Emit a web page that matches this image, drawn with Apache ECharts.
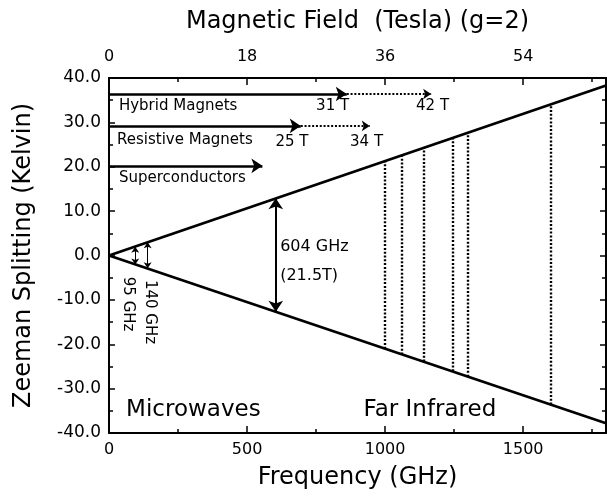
<!DOCTYPE html>
<html>
<head>
<meta charset="utf-8">
<script src="https://cdn.jsdelivr.net/npm/echarts@6/dist/echarts.min.js"></script>
<style>
  html, body { margin: 0; padding: 0; background: #fff; }
  #chart { width: 607px; height: 500px; }
</style>
</head>
<body>
<div id="chart"></div>
<script>
// ---- data -------------------------------------------------------------
// tick labels
const freqTicks = [0, 500, 1000, 1500];          // GHz (bottom)
const fieldTicks = [0, 18, 36, 54];              // Tesla (top)
const splitTicks = [40, 30, 20, 10, 0, -10, -20, -30, -40]; // Kelvin

// Zeeman splitting fan: endpoints (GHz, K)
const fanFreq = [0, 1800];
const fanUpper = [0, 38.3];
const fanLower = [0, -37.8];

// microwave sources (GHz) and the splitting they span (K)
const mwFreq = [95, 140];
const mwUpper = [2.0, 3.0];
const mwLower = [-2.0, -2.9];
const hfFreq = [604];
const hfField = [21.5];
const hfUpper = [12.9];
const hfLower = [-12.7];

// far-infrared laser lines (GHz) and their splitting span (K)
const firFreq = [1000, 1060, 1140, 1245, 1300, 1600];
const firUpper = [21.3, 22.6, 24.3, 26.5, 27.7, 34.0];
const firLower = [-21.0, -22.3, -23.9, -26.1, -27.3, -33.6];

// magnet classes: continuous field limit and extended limit (Tesla)
const magnetNames = ['Hybrid Magnets', 'Resistive Magnets', 'Superconductors'];
const magnetField = [31, 25, 20];
const magnetExtended = [42, 34, null];

// ---- layout -----------------------------------------------------------
const FONT = 'DejaVu Sans';
const FREQ_MAX = 1800;
const FIELD_MAX = FREQ_MAX * 18 / 500;   // top axis shares the frequency scale
const magnetRowK = [36.4, 29.2, 20.2];   // row height of each magnet arrow (K)

const black = '#000';
const axisLine = { show: true, onZero: false, lineStyle: { color: black, width: 2 } };

const chart = echarts.init(document.getElementById('chart'), null, { renderer: 'canvas' });

function tickAxis(pos, max, interval, len, extra) {
  return Object.assign({
    type: 'value', position: pos, gridIndex: 0, min: 0, max: max, interval: interval,
    axisLine: { show: false, onZero: false }, axisLabel: { show: false },
    axisTick: { show: true, inside: true, length: len, lineStyle: { color: black, width: 1.5 } },
    splitLine: { show: false }
  }, extra || {});
}

const option = {
  animation: false,
  backgroundColor: '#fff',
  textStyle: { fontFamily: FONT },
  grid: { left: 109, right: 1, top: 78, bottom: 67, containLabel: false },
  xAxis: [
    tickAxis('bottom', FREQ_MAX, 250, 4, {
      axisLine: axisLine,
      axisLabel: {
        show: true, margin: 9, color: black, fontFamily: FONT, fontSize: 16,
        showMaxLabel: false,
        formatter: v => freqTicks.includes(v) ? String(v) : ''
      },
      name: 'Frequency (GHz)', nameLocation: 'middle', nameGap: 33,
      nameTextStyle: { color: black, fontFamily: FONT, fontSize: 24 }
    }),
    tickAxis('bottom', FREQ_MAX, 500, 7),
    tickAxis('top', FIELD_MAX, 9, 4, {
      axisLine: axisLine,
      axisLabel: {
        show: true, margin: 13, color: black, fontFamily: FONT, fontSize: 16,
        showMaxLabel: false,
        formatter: v => fieldTicks.includes(v) ? String(v) : ''
      },
      name: 'Magnetic Field  (Tesla) (g=2)', nameLocation: 'middle', nameGap: 44,
      nameTextStyle: { color: black, fontFamily: FONT, fontSize: 24 }
    }),
    tickAxis('top', FIELD_MAX, 18, 7)
  ],
  yAxis: [
    {
      type: 'value', position: 'left', min: -40, max: 40, interval: 10,
      axisLine: axisLine,
      axisTick: { show: true, inside: true, length: 6, lineStyle: { color: black, width: 1.5 } },
      minorTick: { show: true, splitNumber: 2, length: 4, lineStyle: { color: black, width: 1.5 } },
      axisLabel: {
        color: black, fontFamily: FONT, fontSize: 17, margin: 8,
        formatter: v => splitTicks.includes(v) ? v.toFixed(1) : ''
      },
      splitLine: { show: false },
      name: 'Zeeman Splitting (Kelvin)', nameLocation: 'middle', nameRotate: 90, nameGap: 73,
      nameTextStyle: { color: black, fontFamily: FONT, fontSize: 24 }
    },
    {
      type: 'value', position: 'right', min: -40, max: 40, interval: 10,
      axisLine: axisLine,
      axisTick: { show: true, inside: true, length: 6, lineStyle: { color: black, width: 1.5 } },
      minorTick: { show: true, splitNumber: 2, length: 4, lineStyle: { color: black, width: 1.5 } },
      axisLabel: { show: false },
      splitLine: { show: false }
    }
  ],
  series: [
    // splitting fan
    {
      type: 'line', xAxisIndex: 0, yAxisIndex: 0, symbol: 'none', z: 5,
      lineStyle: { color: black, width: 2.8 },
      data: fanFreq.map((f, i) => [f, fanUpper[i]])
    },
    {
      type: 'line', xAxisIndex: 0, yAxisIndex: 0, symbol: 'none', z: 5,
      lineStyle: { color: black, width: 2.8 },
      data: fanFreq.map((f, i) => [f, fanLower[i]])
    },
    // far-infrared laser lines
    {
      type: 'lines', coordinateSystem: 'cartesian2d', xAxisIndex: 0, yAxisIndex: 0,
      symbol: 'none', lineStyle: { color: black, width: 2.4, type: [2, 1.8], opacity: 1 },
      data: firFreq.map((f, i) => ({ coords: [[f, firLower[i]], [f, firUpper[i]]] }))
    },
    // microwave sources
    {
      type: 'lines', coordinateSystem: 'cartesian2d', xAxisIndex: 0, yAxisIndex: 0,
      symbol: ['arrow', 'arrow'], symbolSize: 6,
      lineStyle: { color: black, width: 1, opacity: 1 },
      data: mwFreq.map((f, i) => ({ coords: [[f, mwLower[i]], [f, mwUpper[i]]] }))
    },
    {
      type: 'lines', coordinateSystem: 'cartesian2d', xAxisIndex: 0, yAxisIndex: 0,
      symbol: ['arrow', 'arrow'], symbolSize: 11,
      lineStyle: { color: black, width: 2, opacity: 1 },
      data: hfFreq.map((f, i) => ({ coords: [[f, hfLower[i]], [f, hfUpper[i]]] }))
    },
    // magnet ranges, continuous part
    {
      type: 'lines', coordinateSystem: 'cartesian2d', xAxisIndex: 2, yAxisIndex: 0,
      symbol: ['none', 'arrow'], symbolSize: 11,
      lineStyle: { color: black, width: 2.5, opacity: 1 },
      data: magnetField.map((b, i) => ({ coords: [[0, magnetRowK[i]], [b, magnetRowK[i]]] }))
    },
    // magnet ranges, extended part
    {
      type: 'lines', coordinateSystem: 'cartesian2d', xAxisIndex: 2, yAxisIndex: 0,
      symbol: ['none', 'arrow'], symbolSize: 8,
      lineStyle: { color: black, width: 2.2, type: [2, 1.8], opacity: 1 },
      data: magnetExtended.map((b, i) => b == null ? null :
        ({ coords: [[magnetField[i], magnetRowK[i]], [b, magnetRowK[i]]] })).filter(Boolean)
    }
  ]
};
chart.setOption(option);

// ---- annotations, anchored in axis units --------------------------------
// unit: 'f' = GHz on the bottom axis, 'T' = Tesla on the top axis
const notes = [
  { text: magnetNames[0], unit: 'f', at: [36, 33.7], size: 15 },
  { text: magnetNames[1], unit: 'f', at: [29, 25.9], size: 15 },
  { text: magnetNames[2], unit: 'f', at: [36, 17.4], size: 15 },
  { text: magnetField[0] + ' T', unit: 'f', at: [750, 33.7], size: 15 },
  { text: magnetExtended[0] + ' T', unit: 'f', at: [1112, 33.7], size: 15 },
  { text: magnetField[1] + ' T', unit: 'f', at: [603, 25.5], size: 15 },
  { text: magnetExtended[1] + ' T', unit: 'f', at: [873, 25.5], size: 15 },
  { text: hfFreq[0] + ' GHz', unit: 'f', at: [620, 1.9], size: 16 },
  { text: '(' + hfField[0] + 'T)', unit: 'f', at: [620, -4.5], size: 16 },
  { text: mwFreq[0] + ' GHz', unit: 'f', at: [67, -4.8], size: 15, rotate: true },
  { text: mwFreq[1] + ' GHz', unit: 'f', at: [149, -5.5], size: 15, rotate: true },
  { text: 'Microwaves', unit: 'f', at: [62, -34.8], size: 23 },
  { text: 'Far Infrared', unit: 'f', at: [922, -34.8], size: 23 }
];

function placeNotes() {
  const elements = notes.map(n => {
    const p = chart.convertToPixel({ xAxisIndex: n.unit === 'T' ? 2 : 0, yAxisIndex: 0 }, n.at);
    return {
      type: 'text', x: p[0], y: p[1], z: 10,
      rotation: n.rotate ? -Math.PI / 2 : 0,
      style: {
        text: n.text, fill: black, fontFamily: FONT, fontSize: n.size,
        align: 'left', verticalAlign: 'middle'
      }
    };
  });
  chart.setOption({ graphic: { elements: elements } });
}
placeNotes();
</script>
</body>
</html>
